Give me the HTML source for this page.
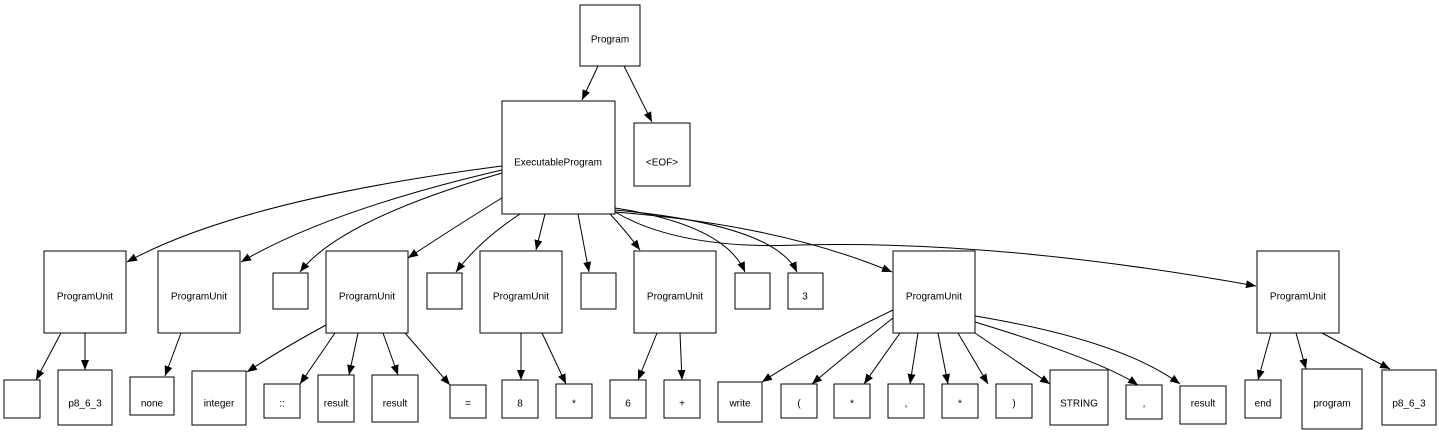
<!DOCTYPE html>
<html><head><meta charset="utf-8"><style>
body{margin:0;background:#fff}
svg text{font-family:"Liberation Sans",Arial,sans-serif;font-size:10px;text-anchor:middle;dominant-baseline:middle}
rect{fill:#fff;stroke:#000;stroke-width:1}
path{fill:none;stroke:#000;stroke-width:1}
</style></head><body>
<svg width="1439" height="433" viewBox="0 0 1439 433" xmlns="http://www.w3.org/2000/svg">
<defs><marker id="a" markerWidth="10" markerHeight="8" refX="10" refY="4" orient="auto" markerUnits="userSpaceOnUse"><polygon points="0,0 10,4 0,8" fill="#000"/></marker></defs>
<g marker-end="url(#a)">
<path d="M598,66 L582,100"/>
<path d="M624,66 L652,122"/>
<path d="M502,166 Q240,200 127,262"/>
<path d="M502,170 Q330,210 241,262"/>
<path d="M502,173 Q340,220 300,272"/>
<path d="M505,196 Q450,230 408,258"/>
<path d="M520,214 Q480,240 456,272"/>
<path d="M545,214 L536,250"/>
<path d="M578,214 L589,272"/>
<path d="M610,214 Q625,230 640,250"/>
<path d="M615,208 Q725,225 745,272"/>
<path d="M615,210 Q775,225 797,272"/>
<path d="M615,212 Q780,225 892,272"/>
<path d="M615,212 Q680,250 800,245 Q1000,240 1256,286"/>
<path d="M61,333 L36,380"/>
<path d="M85,333 L85,370"/>
<path d="M181,333 L165,376"/>
<path d="M326,325 Q280,350 247,372"/>
<path d="M335,333 L300,384"/>
<path d="M358,333 L349,375"/>
<path d="M383,333 L398,375"/>
<path d="M405,333 L450,385"/>
<path d="M521,333 L521,380"/>
<path d="M542,333 L566,384"/>
<path d="M657,333 L638,380"/>
<path d="M680,333 L682,380"/>
<path d="M893,310 Q810,350 762,382"/>
<path d="M893,318 Q840,360 812,384"/>
<path d="M900,333 L864,384"/>
<path d="M918,333 L910,384"/>
<path d="M938,333 L948,384"/>
<path d="M958,333 L988,384"/>
<path d="M975,333 L1050,384"/>
<path d="M975,322 Q1100,360 1138,385"/>
<path d="M975,316 Q1120,340 1180,384"/>
<path d="M1271,333 L1258,380"/>
<path d="M1296,333 L1306,369"/>
<path d="M1322,333 L1390,369"/>
</g>
<rect x="580" y="5" width="60" height="61"/><text x="610" y="40">Program</text>
<rect x="502" y="101" width="113" height="113"/><text x="558" y="163">ExecutableProgram</text>
<rect x="634" y="123" width="56" height="63"/><text x="662" y="163">&lt;EOF&gt;</text>
<rect x="44" y="251" width="82" height="82"/><text x="85" y="297">ProgramUnit</text>
<rect x="158" y="251" width="82" height="82"/><text x="199" y="297">ProgramUnit</text>
<rect x="273" y="273" width="35" height="36"/>
<rect x="326" y="251" width="82" height="82"/><text x="367" y="297">ProgramUnit</text>
<rect x="427" y="273" width="35" height="36"/>
<rect x="480" y="251" width="82" height="82"/><text x="521" y="297">ProgramUnit</text>
<rect x="581" y="273" width="35" height="36"/>
<rect x="634" y="251" width="82" height="82"/><text x="675" y="297">ProgramUnit</text>
<rect x="735" y="273" width="35" height="36"/>
<rect x="788" y="273" width="35" height="36"/><text x="805" y="297">3</text>
<rect x="893" y="251" width="82" height="82"/><text x="934" y="297">ProgramUnit</text>
<rect x="1257" y="251" width="82" height="82"/><text x="1298" y="297">ProgramUnit</text>
<rect x="4" y="380" width="36" height="38"/>
<rect x="58" y="370" width="54" height="55"/><text x="85" y="404">p8_6_3</text>
<rect x="130" y="377" width="44" height="38"/><text x="152" y="404">none</text>
<rect x="192" y="371" width="54" height="54"/><text x="219" y="404">integer</text>
<rect x="264" y="384" width="36" height="34"/><text x="282" y="404">::</text>
<rect x="318" y="375" width="36" height="47"/><text x="336" y="404">result</text>
<rect x="372" y="375" width="46" height="47"/><text x="395" y="404">result</text>
<rect x="450" y="385" width="36" height="33"/><text x="468" y="404">=</text>
<rect x="502" y="380" width="36" height="38"/><text x="520" y="404">8</text>
<rect x="556" y="384" width="36" height="34"/><text x="574" y="404">*</text>
<rect x="610" y="380" width="36" height="38"/><text x="628" y="404">6</text>
<rect x="664" y="380" width="36" height="38"/><text x="682" y="404">+</text>
<rect x="718" y="382" width="44" height="40"/><text x="740" y="404">write</text>
<rect x="781" y="384" width="36" height="34"/><text x="799" y="404">(</text>
<rect x="834" y="384" width="36" height="34"/><text x="852" y="404">*</text>
<rect x="888" y="384" width="36" height="34"/><text x="906" y="404">,</text>
<rect x="942" y="384" width="36" height="34"/><text x="960" y="404">*</text>
<rect x="996" y="384" width="36" height="34"/><text x="1014" y="404">)</text>
<rect x="1050" y="370" width="58" height="55"/><text x="1079" y="404">STRING</text>
<rect x="1126" y="385" width="36" height="34"/><text x="1144" y="404">,</text>
<rect x="1180" y="386" width="46" height="38"/><text x="1203" y="404">result</text>
<rect x="1245" y="380" width="36" height="38"/><text x="1263" y="404">end</text>
<rect x="1302" y="369" width="60" height="60"/><text x="1332" y="404">program</text>
<rect x="1382" y="370" width="54" height="55"/><text x="1409" y="404">p8_6_3</text>
</svg>
</body></html>
